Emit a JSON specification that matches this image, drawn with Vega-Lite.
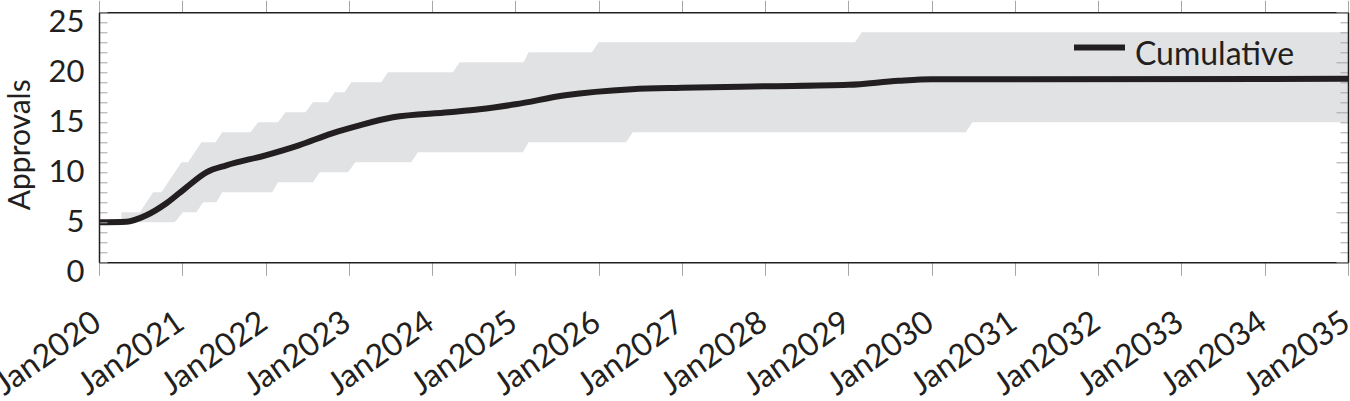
{
  "$schema": "https://vega.github.io/schema/vega-lite/v6.json",
  "autosize": {"type": "none"},
  "padding": {"left": 99, "top": 12.3, "right": 2, "bottom": 138.7},
  "width": 1249,
  "height": 250,
  "background": "white",
  "config": {"view": {"stroke": null}, "font": "Lato"},
  "datasets": {
    "upper": [
      {"year": 2020.00, "approvals": 4},
      {"year": 2020.265, "approvals": 4},
      {"year": 2020.27, "approvals": 5},
      {"year": 2020.49, "approvals": 5},
      {"year": 2020.65, "approvals": 7},
      {"year": 2020.75, "approvals": 7},
      {"year": 2020.99, "approvals": 10},
      {"year": 2021.07, "approvals": 10},
      {"year": 2021.23, "approvals": 12},
      {"year": 2021.40, "approvals": 12},
      {"year": 2021.48, "approvals": 13},
      {"year": 2021.82, "approvals": 13},
      {"year": 2021.91, "approvals": 14},
      {"year": 2022.15, "approvals": 14},
      {"year": 2022.24, "approvals": 15},
      {"year": 2022.48, "approvals": 15},
      {"year": 2022.57, "approvals": 16},
      {"year": 2022.75, "approvals": 16},
      {"year": 2022.83, "approvals": 17},
      {"year": 2022.95, "approvals": 17},
      {"year": 2023.03, "approvals": 18},
      {"year": 2023.39, "approvals": 18},
      {"year": 2023.47, "approvals": 19},
      {"year": 2024.25, "approvals": 19},
      {"year": 2024.33, "approvals": 20},
      {"year": 2025.10, "approvals": 20},
      {"year": 2025.16, "approvals": 21},
      {"year": 2025.92, "approvals": 21},
      {"year": 2026.00, "approvals": 22},
      {"year": 2029.08, "approvals": 22},
      {"year": 2029.16, "approvals": 23},
      {"year": 2035.00, "approvals": 23}
    ],
    "lower": [
      {"year": 2020.00, "approvals": 4},
      {"year": 2020.91, "approvals": 4},
      {"year": 2021.01, "approvals": 5},
      {"year": 2021.17, "approvals": 5},
      {"year": 2021.25, "approvals": 6},
      {"year": 2021.41, "approvals": 6},
      {"year": 2021.48, "approvals": 7},
      {"year": 2022.08, "approvals": 7},
      {"year": 2022.15, "approvals": 8},
      {"year": 2022.57, "approvals": 8},
      {"year": 2022.65, "approvals": 9},
      {"year": 2022.99, "approvals": 9},
      {"year": 2023.08, "approvals": 10},
      {"year": 2023.75, "approvals": 10},
      {"year": 2023.83, "approvals": 11},
      {"year": 2025.09, "approvals": 11},
      {"year": 2025.16, "approvals": 12},
      {"year": 2026.33, "approvals": 12},
      {"year": 2026.41, "approvals": 13},
      {"year": 2030.41, "approvals": 13},
      {"year": 2030.49, "approvals": 14},
      {"year": 2035.00, "approvals": 14}
    ],
    "cumulative": [
      {"year": 2020.00, "approvals": 4.0},
      {"year": 2020.33, "approvals": 4.05},
      {"year": 2020.57, "approvals": 4.7},
      {"year": 2020.81, "approvals": 5.9},
      {"year": 2021.05, "approvals": 7.5},
      {"year": 2021.29, "approvals": 9.0},
      {"year": 2021.53, "approvals": 9.7},
      {"year": 2022.00, "approvals": 10.7},
      {"year": 2022.40, "approvals": 11.7},
      {"year": 2022.80, "approvals": 12.9},
      {"year": 2023.13, "approvals": 13.7},
      {"year": 2023.53, "approvals": 14.5},
      {"year": 2024.20, "approvals": 15.0},
      {"year": 2024.57, "approvals": 15.3},
      {"year": 2025.00, "approvals": 15.8},
      {"year": 2025.60, "approvals": 16.7},
      {"year": 2026.40, "approvals": 17.3},
      {"year": 2027.00, "approvals": 17.45},
      {"year": 2028.00, "approvals": 17.6},
      {"year": 2029.00, "approvals": 17.75},
      {"year": 2029.60, "approvals": 18.15},
      {"year": 2030.00, "approvals": 18.3},
      {"year": 2031.00, "approvals": 18.3},
      {"year": 2035.00, "approvals": 18.35}
    ]
  },
  "layer": [
    {
      "data": {"name": "upper"},
      "mark": {"type": "area", "color": "#e1e2e4", "interpolate": "linear"},
      "encoding": {
        "x": {
          "field": "year", "type": "quantitative",
          "scale": {"domain": [2020, 2035], "nice": false, "zero": false},
          "axis": {
            "orient": "bottom", "title": null, "grid": false,
            "values": [2020, 2021, 2022, 2023, 2024, 2025, 2026, 2027, 2028, 2029, 2030, 2031, 2032, 2033, 2034, 2035],
            "format": "d", "labelExpr": "'Jan' + datum.label",
            "tickSize": 13, "tickColor": "#a6a6a6", "tickWidth": 1,
            "domainColor": "#231f20", "domainWidth": 1.5,
            "labelAngle": -35, "labelAlign": "right", "labelBaseline": "middle",
            "labelPadding": 43, "labelOffset": -2, "labelFontSize": 32, "labelFont": "Lato",
            "labelColor": "#231f20", "labelOverlap": false, "labelBound": false, "labelFlush": false,
            "zindex": 1
          }
        },
        "y": {
          "field": "approvals", "type": "quantitative",
          "scale": {"domain": [0, 25], "nice": false, "zero": true},
          "axis": {
            "orient": "left", "grid": false,
            "values": [0, 1, 2, 3, 4, 5, 6, 7, 8, 9, 10, 11, 12, 13, 14, 15, 16, 17, 18, 19, 20, 21, 22, 23, 24, 25],
            "labelExpr": "datum.value % 5 === 0 ? datum.label : ''",
            "tickSize": -8,
            "tickColor": "#a6a6a6", "tickWidth": 1,
            "domainColor": "#231f20", "domainWidth": 1.5,
            "labelAlign": "right", "labelBaseline": "middle",
            "labelPadding": 23, "labelOffset": 10, "labelFontSize": 31, "labelFont": "Lato",
            "labelColor": "#231f20", "labelOverlap": false, "labelBound": false, "labelFlush": false,
            "encode": {"ticks": {"update": {"x2": {"signal": "datum.value % 5 === 0 ? 12 : 8"}}}},
            "title": "Approvals", "titleFontSize": 30, "titleFont": "Lato", "titleFontWeight": "normal",
            "titleColor": "#231f20", "titleAngle": -90, "titleAlign": "center", "titleBaseline": "alphabetic",
            "titleX": -70, "titleY": 132,
            "zindex": 1
          }
        }
      },
      "stack": null
    },
    {
      "data": {"name": "lower"},
      "mark": {"type": "area", "color": "white", "interpolate": "linear"},
      "encoding": {
        "x": {
          "field": "year", "type": "quantitative",
          "axis": {
            "orient": "top", "title": null, "grid": false, "labels": false,
            "values": [2020, 2021, 2022, 2023, 2024, 2025, 2026, 2027, 2028, 2029, 2030, 2031, 2032, 2033, 2034, 2035],
            "tickSize": 12, "tickColor": "#a6a6a6", "tickWidth": 1,
            "domainColor": "#231f20", "domainWidth": 1.5, "zindex": 1
          }
        },
        "y": {
          "field": "approvals", "type": "quantitative",
          "axis": {
            "orient": "right", "title": null, "grid": false, "labels": false,
            "values": [0, 1, 2, 3, 4, 5, 6, 7, 8, 9, 10, 11, 12, 13, 14, 15, 16, 17, 18, 19, 20, 21, 22, 23, 24, 25],
            "tickSize": {"condition": {"test": "datum.value % 5 === 0", "value": -12}, "value": -8},
            "tickColor": "#a6a6a6", "tickWidth": 1,
            "domainColor": "#231f20", "domainWidth": 1.5, "zindex": 1
          }
        }
      }
    },
    {
      "data": {"name": "cumulative"},
      "mark": {"type": "line", "strokeWidth": 6, "interpolate": "monotone"},
      "encoding": {
        "x": {"field": "year", "type": "quantitative", "axis": null},
        "y": {"field": "approvals", "type": "quantitative", "axis": null},
        "color": {
          "datum": "Cumulative",
          "scale": {"range": ["#231f20"]},
          "legend": {
            "orient": "none", "legendX": 972, "legendY": 14.6, "title": null, "padding": 0,
            "symbolType": "M-1,-0.31L1,-0.31", "symbolSize": 2601, "symbolStrokeWidth": 6,
            "labelFontSize": 32, "labelFont": "Lato", "labelColor": "#231f20", "labelOffset": 7,
            "labelLimit": 400
          }
        }
      }
    }
  ],
  "resolve": {"axis": {"x": "independent", "y": "independent"}}
}
